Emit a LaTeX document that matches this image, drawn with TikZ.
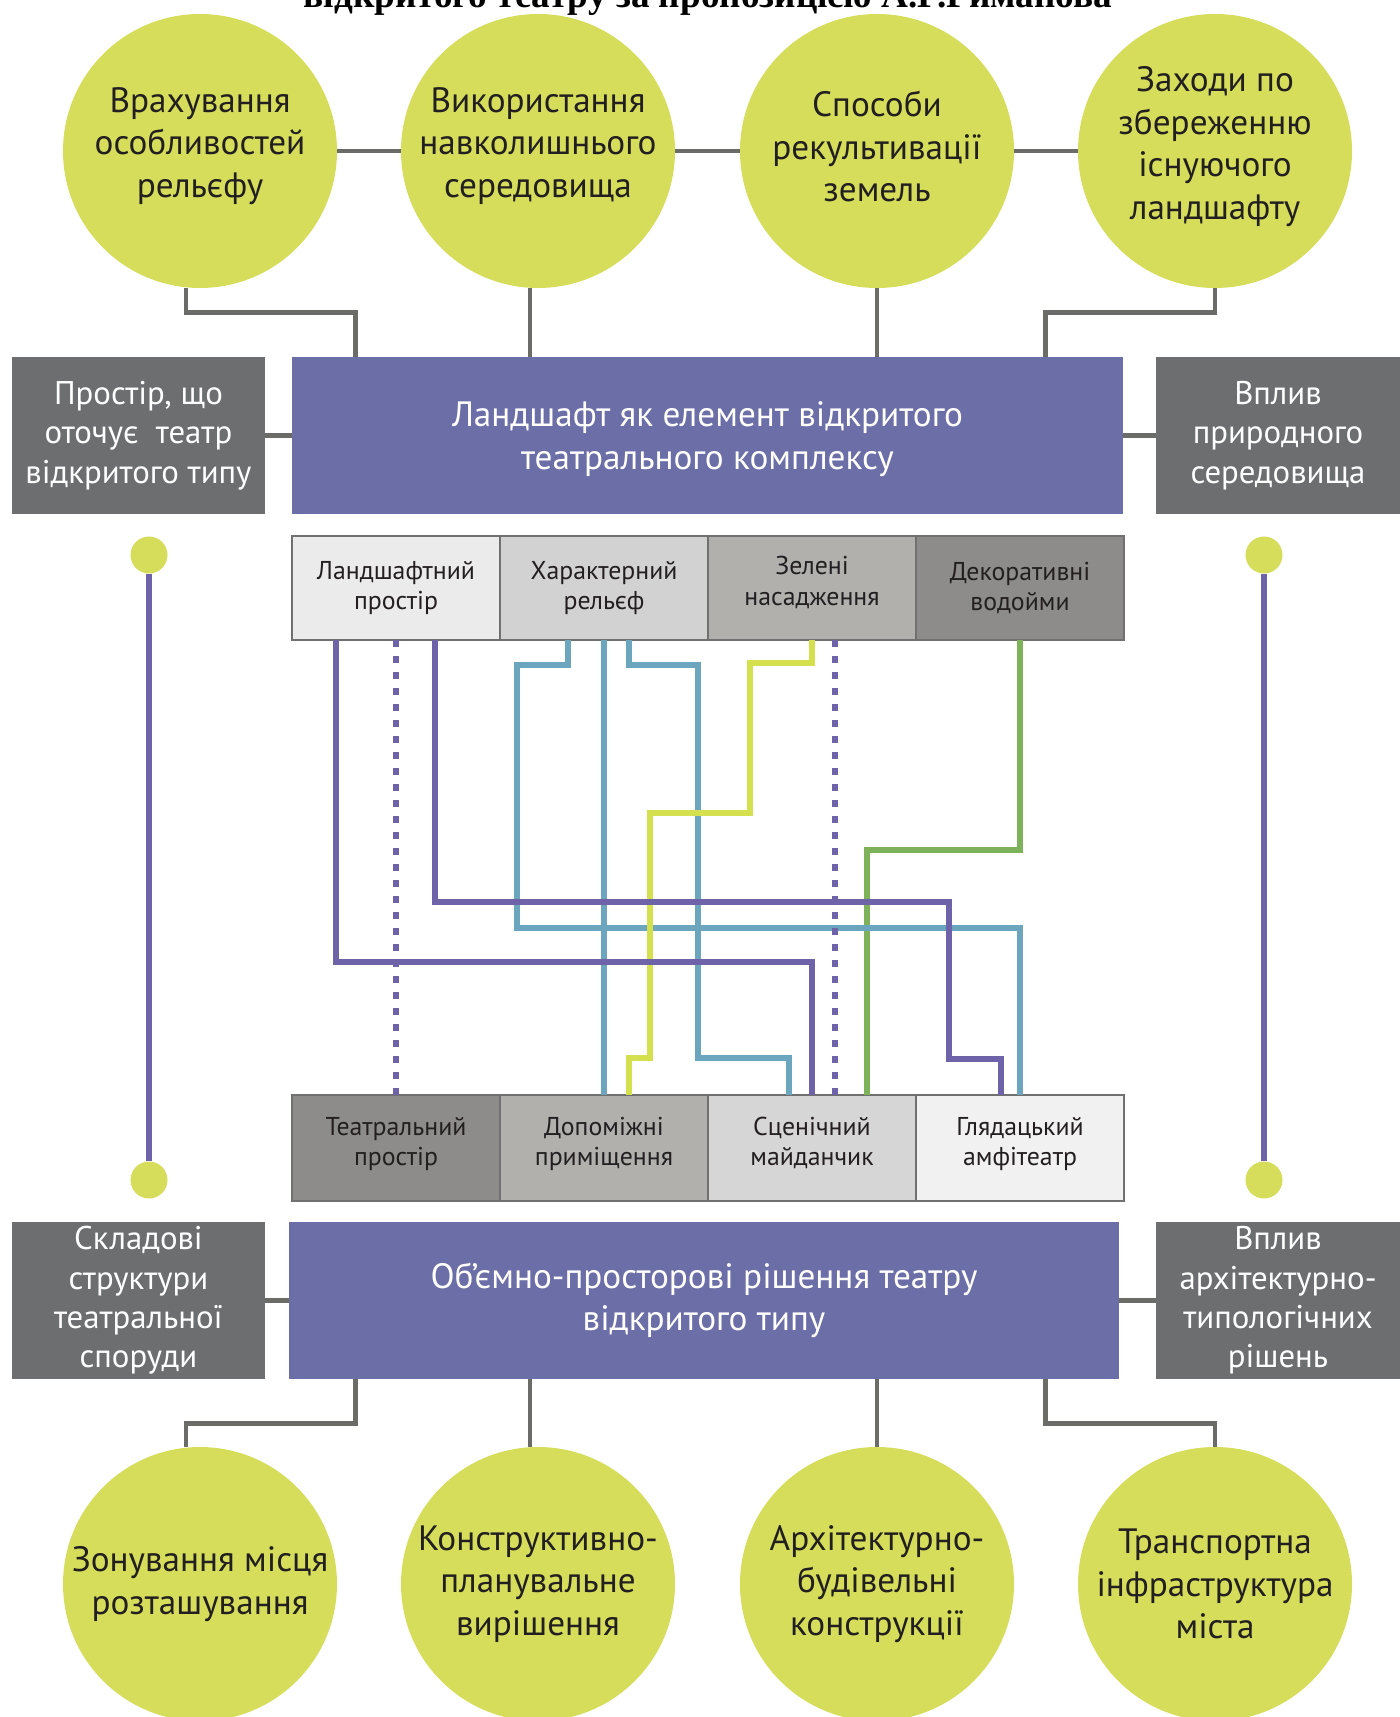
\documentclass[tikz,border=0pt]{standalone}
\usepackage{fontspec}
\setmainfont{PT Sans}
\newfontfamily\titlefont{Liberation Serif}
\usepackage{xcolor}
\usetikzlibrary{positioning}

\definecolor{circlefill}{HTML}{D5DD5B}
\definecolor{corefill}{HTML}{6B6EA7}
\definecolor{sidefill}{HTML}{6D6E70}
\definecolor{textdark}{HTML}{231F20}
\definecolor{linkgray}{HTML}{6B6B68}
\definecolor{cellborder}{HTML}{707070}
\definecolor{cellA}{HTML}{EBEBEB}
\definecolor{cellB}{HTML}{D2D2D2}
\definecolor{cellC}{HTML}{B1B0AD}
\definecolor{cellD}{HTML}{8E8C8A}
\definecolor{routepurple}{HTML}{6E62A9}
\definecolor{routeblue}{HTML}{6CA6BE}
\definecolor{routeyellow}{HTML}{D5E04E}
\definecolor{routegreen}{HTML}{7DB25A}

\begin{document}
\begin{tikzpicture}[
        x=0.5pt, y=-0.5pt,
        idea/.style={
            circle,
            fill=circlefill,
            minimum size=137pt,
            inner sep=0pt,
            align=center,
            text=textdark,
            font=\fontsize{17.6}{21.3}\selectfont
        },
        core/.style={
            rectangle,
            fill=corefill,
            minimum width=415.5pt,
            minimum height=78.5pt,
            align=center,
            text=white,
            font=\fontsize{17.6}{21.3}\selectfont
        },
        side/.style={
            rectangle,
            fill=sidefill,
            minimum width=126.5pt,
            minimum height=78.5pt,
            inner sep=2pt,
            align=center,
            text=white,
            font=\fontsize{16.4}{19.7}\selectfont
        },
        cell/.style={
            rectangle,
            draw=cellborder,
            line width=0.8pt,
            minimum width=104pt,
            minimum height=52pt,
            inner sep=0pt,
            outer sep=0pt,
            align=center,
            text=textdark,
            font=\fontsize{12.9}{15.3}\selectfont
        },
        dot/.style={circle, fill=circlefill, minimum size=18.5pt, inner sep=0pt},
        link/.style={draw=linkgray, line width=2.2pt},
        route/.style={line width=3pt},
        dotline/.style={route, dash pattern=on 3.5pt off 4.5pt}
    ]

    \useasboundingbox (0,0) rectangle (1400,1717);

    \node (title) [anchor=base, font=\titlefont\bfseries\fontsize{18.6}{20}\selectfont] at (708,8) {відкритого театру за пропозицією А.Г.Риманова};

    % top circles
    \node (c1) [idea, text depth=8.5pt] at (200,151) {Врахування\\особливостей\\рельєфу};
    \node (c2) [idea, text depth=8.5pt] at (538,151) {Використання\\навколишнього\\середовища};
    \node (c3) [idea, text depth=4.5pt] at (877,151) {Способи\\рекультивації\\земель};
    \node (c4) [idea, text depth=8pt] at (1215,151) {Заходи по\\збереженню\\існуючого\\ландшафту};

    % upper band
    \node (land) [core, text depth=-2.6pt] at (707.5,435.5) {Ландшафт як елемент відкритого\\театрального комплексу};
    \node (envL) [side] at (138.5,435.5) {Простір, що\\оточує\ \ театр\\відкритого типу};
    \node (envR) [side, minimum width=122pt] at (1278,435.5) {Вплив\\природного\\середовища};

    % landscape components
    \node (u1) [cell, fill=cellA] at (396,588) {Ландшафтний\\простір};
    \node (u2) [cell, fill=cellB, right=0pt of u1] {Характерний\\рельєф};
    \node (u3) [cell, fill=cellC, text depth=7pt, right=0pt of u2] {Зелені\\насадження};
    \node (u4) [cell, fill=cellD, right=0pt of u3] {Декоративні\\водойми};

    % theatre components
    \node (l1) [cell, fill=cellD, minimum height=53pt, text depth=6.5pt] at (396,1148) {Театральний\\простір};
    \node (l2) [cell, fill=cellC, minimum height=53pt, text depth=6.5pt, right=0pt of l1] {Допоміжні\\приміщення};
    \node (l3) [cell, fill=cellB!85!cellA, minimum height=53pt, text depth=6.5pt, right=0pt of l2] {Сценічний\\майданчик};
    \node (l4) [cell, fill=cellA!70!white, minimum height=53pt, text depth=6.5pt, right=0pt of l3] {Глядацький\\амфітеатр};

    % lower band
    \node (form) [core, minimum width=415pt] at (704,1300.5) {Об’ємно-просторові рішення театру\\відкритого типу};
    \node (partL) [side] at (138.5,1300.5) {Складові\\структури\\театральної\\споруди};
    \node (partR) [side, minimum width=122pt] at (1278,1300.5) {Вплив\\архітектурно-\\типологічних\\рішень};

    % bottom circles
    \node (b1) [idea] at (200,1584) {Зонування місця\\розташування};
    \node (b2) [idea] at (538,1584) {Конструктивно-\\планувальне\\вирішення};
    \node (b3) [idea] at (877,1584) {Архітектурно-\\будівельні\\конструкції};
    \node (b4) [idea] at (1215,1584) {Транспортна\\інфраструктура\\міста};

    % side markers
    \node (dL1) [dot] at (149,555) {};
    \node (dL2) [dot] at (149,1180) {};
    \node (dR1) [dot] at (1264,555) {};
    \node (dR2) [dot] at (1264,1180) {};
    \draw [route, draw=routepurple] (dL1) -- (dL2);
    \draw [route, draw=routepurple] (dR1) -- (dR2);

    % gray links
    \draw [link] (c1) -- (c2);
    \draw [link] (c2) -- (c3);
    \draw [link] (c3) -- (c4);
    \draw [link] ([xshift=-7pt]c1.south) -- ++(0,24) -| ([xshift=32pt]land.north west);
    \draw [link] ([xshift=-4pt]c2.south) -- ([xshift=-4pt]c2.south |- land.north);
    \draw [link] (c3.south) -- (c3.south |- land.north);
    \draw [link] (c4.south) -- ++(0,24) -| ([xshift=-39pt]land.north east);
    \draw [link] (envL) -- (land);
    \draw [link] (land) -- (envR);
    \draw [link] (partL) -- (form);
    \draw [link] (form) -- (partR);
    \draw [link] ([xshift=33.5pt]form.south west) -- ++(0,44) -| ([xshift=-7pt]b1.north);
    \draw [link] ([xshift=-4pt]b2.north |- form.south) -- ([xshift=-4pt]b2.north);
    \draw [link] (b3.north |- form.south) -- (b3.north);
    \draw [link] ([xshift=-37pt]form.south east) -- ++(0,44) -| (b4.north);

    % routes between components
    \draw [route, draw=routegreen] (u4.south) -- ++(0,210) -| ([xshift=79.5pt]l3.north west);
    \draw [route, draw=routeblue] ([xshift=34pt]u2.south west) -- ++(0,25) -| (517,928) -| (l4.north);
    \draw [route, draw=routeblue] (u2.south) -- (l2.north);
    \draw [route, draw=routeblue] ([xshift=64.5pt]u2.south west) -- ++(0,25) -| (698,1058) -| ([xshift=40.5pt]l3.north west);
    \draw [route, draw=routeyellow] (u3.south) -- ++(0,23) -| (750,813) -| (650,1058) -| ([xshift=64.5pt]l2.north west);
    \draw [route, draw=routepurple] ([xshift=22pt]u1.south west) -- ++(0,322) -| (l3.north);
    \draw [route, draw=routepurple] ([xshift=71.5pt]u1.south west) -- ++(0,262) -| (949,1059) -| ([xshift=42.5pt]l4.north west);
    \draw [dotline, draw=routepurple] (u1.south) -- (l1.north);
    \draw [dotline, draw=routepurple] ([xshift=63.5pt]u3.south west) -- ([xshift=63.5pt]l3.north west);

\end{tikzpicture}
\end{document}
